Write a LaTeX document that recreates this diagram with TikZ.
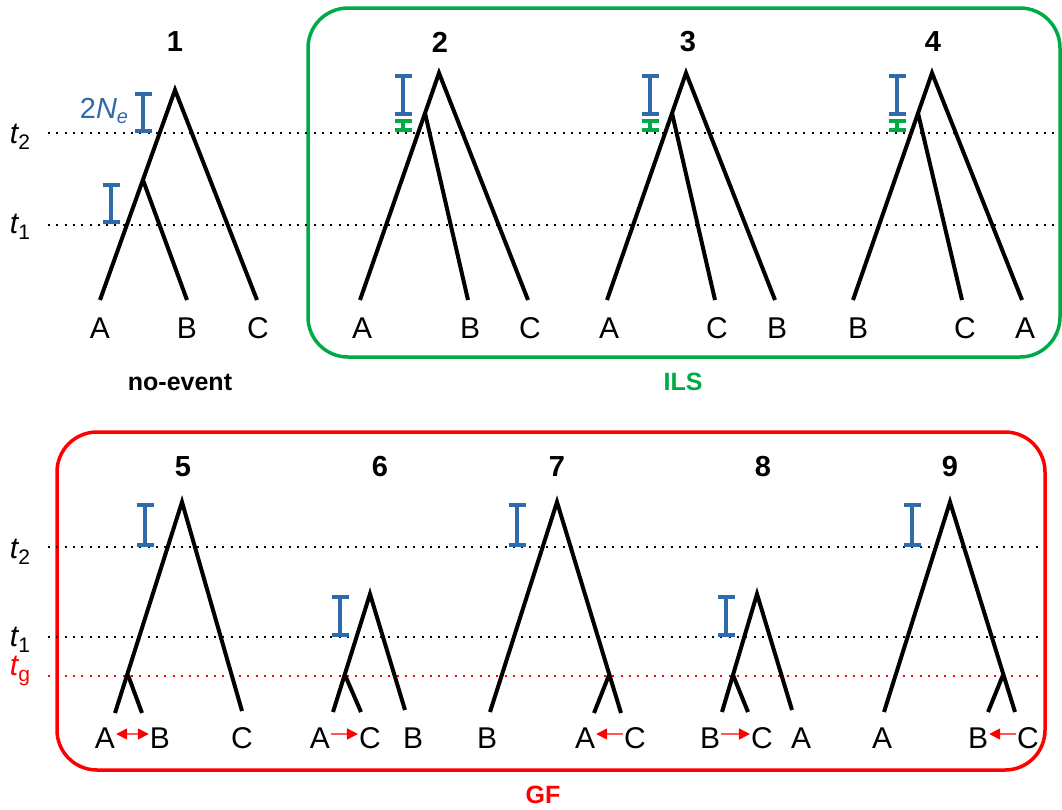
\documentclass[tikz,border=0pt]{standalone}
\usepackage{fontspec}
\setmainfont{Liberation Sans}
\usetikzlibrary{arrows.meta}
\definecolor{ilsgreen}{RGB}{0,170,70}
\definecolor{barblue}{RGB}{47,106,170}
\definecolor{gfred}{RGB}{255,0,0}
\newcommand{\tlab}[1]{{\fontsize{30}{32}\selectfont\itshape t}\raisebox{-6pt}{\fontsize{21}{21}\selectfont #1}}
\begin{document}
\begin{tikzpicture}[x=1pt,y=-1pt,
  branch/.style={line width=4pt, line join=miter},
  leaflab/.style={font=\fontsize{30}{32}\selectfont, inner sep=1pt},
  numlab/.style={font=\bfseries\fontsize{29}{32}\selectfont, inner sep=1pt},
  grouplab/.style={font=\bfseries\fontsize{25}{28}\selectfont, inner sep=1pt},
  timeline/.style={line width=2pt, dash pattern=on 2pt off 6.3pt},
  errbar/.style={line width=4pt, {Bar[width=17pt]}-{Bar[width=17pt]}},
  gfarrow/.style={line width=1.5pt, draw=gfred!65, -{Triangle[length=11pt,width=11pt,color=gfred]}},
  gfdarrow/.style={line width=1.5pt, draw=gfred!65, {Triangle[length=11pt,width=11pt,color=gfred]}-{Triangle[length=11pt,width=11pt,color=gfred]}},
  groupbox/.style={line width=3.5pt, rounded corners=40pt}
]
\useasboundingbox (0,0) rectangle (1062,809);

% ---------- boxes ----------
\draw[groupbox, draw=ilsgreen] (308,8) rectangle (1060,357);
\draw[groupbox, draw=gfred] (57,432) rectangle (1045,770);

% ---------- time lines (top) ----------
\node[inner sep=0pt] (tt2) at (20,137) {\tlab{2}};
\node[inner sep=0pt] (tt1) at (20,227) {\tlab{1}};
\coordinate (tt2s) at (48,133); \coordinate (tt2e) at (1058,133);
\coordinate (tt1s) at (48,225); \coordinate (tt1e) at (1058,225);
\draw[timeline] (tt2s) -- (tt2e);
\draw[timeline] (tt1s) -- (tt1e);

% ---------- time lines (bottom) ----------
\node[inner sep=0pt] (bt2) at (20,552) {\tlab{2}};
\node[inner sep=0pt] (bt1) at (20,640) {\tlab{1}};
\node[inner sep=0pt, text=gfred] (btg) at (20,671) {\tlab{g}};
\coordinate (bt2s) at (48,547); \coordinate (bt2e) at (1043,547);
\coordinate (bt1s) at (48,637); \coordinate (bt1e) at (1043,637);
\coordinate (btgs) at (48,676); \coordinate (btge) at (1043,676);
\draw[timeline] (bt2s) -- (bt2e);
\draw[timeline] (bt1s) -- (bt1e);
\draw[timeline, draw=gfred] (btgs) -- (btge);

% ---------- tree 1 ----------
\node[numlab] (n1) at (175,42) {1};
\coordinate (r1) at (175,90); \coordinate (i1) at (143,180);
\coordinate (a1) at (100,300); \coordinate (b1) at (187,300); \coordinate (c1) at (257,300);
\draw[branch] (a1) -- (r1) -- (c1);
\draw[branch] (i1) -- (b1);
\node[leaflab] (la1) at (100,328) {A};
\node[leaflab] (lb1) at (187,328) {B};
\node[leaflab] (lc1) at (258,328) {C};
\coordinate (e1t) at (143,92); \coordinate (e1b) at (143,133);
\draw[errbar, draw=barblue] (e1t) -- (e1b);
\coordinate (e1bt) at (111,183); \coordinate (e1bb) at (111,224);
\draw[errbar, draw=barblue] (e1bt) -- (e1bb);
\node[text=barblue, inner sep=0pt] (ne) at (104,111)
  {\fontsize{29}{30}\selectfont 2\textit{N}\raisebox{-5pt}{\fontsize{20}{20}\selectfont\textit{e}}};
\node[grouplab] (noev) at (180,382) {no-event};

% ---------- tree 2 ----------
\node[numlab] (n2) at (440,42) {2};
\coordinate (r2) at (439,73); \coordinate (i2) at (425,113);
\coordinate (a2) at (360,300); \coordinate (b2) at (468,300); \coordinate (c2) at (528,300);
\draw[branch] (a2) -- (r2) -- (c2);
\draw[branch] (i2) -- (b2);
\node[leaflab] (la2) at (362,328) {A};
\node[leaflab] (lb2) at (470,328) {B};
\node[leaflab] (lc2) at (530,328) {C};
\coordinate (e2t) at (403,74); \coordinate (e2m) at (403,116);
\coordinate (e2g) at (403,119); \coordinate (e2b) at (403,132);
\draw[errbar, draw=barblue] (e2t) -- (e2m);
\draw[errbar, draw=ilsgreen] (e2g) -- (e2b);

% ---------- tree 3 ----------
\node[numlab] (n3) at (688,42) {3};
\coordinate (r3) at (686,73); \coordinate (i3) at (672,113);
\coordinate (a3) at (607,300); \coordinate (c3) at (715,300); \coordinate (b3) at (775,300);
\draw[branch] (a3) -- (r3) -- (b3);
\draw[branch] (i3) -- (c3);
\node[leaflab] (la3) at (609,328) {A};
\node[leaflab] (lc3) at (717,328) {C};
\node[leaflab] (lb3) at (777,328) {B};
\coordinate (e3t) at (650,74); \coordinate (e3m) at (650,116);
\coordinate (e3g) at (650,119); \coordinate (e3b) at (650,132);
\draw[errbar, draw=barblue] (e3t) -- (e3m);
\draw[errbar, draw=ilsgreen] (e3g) -- (e3b);

% ---------- tree 4 ----------
\node[numlab] (n4) at (933,42) {4};
\coordinate (r4) at (932,73); \coordinate (i4) at (918,113);
\coordinate (b4) at (853,300); \coordinate (c4) at (962,300); \coordinate (a4) at (1022,300);
\draw[branch] (b4) -- (r4) -- (a4);
\draw[branch] (i4) -- (c4);
\node[leaflab] (lb4) at (858,328) {B};
\node[leaflab] (lc4) at (965,328) {C};
\node[leaflab] (la4) at (1025,328) {A};
\coordinate (e4t) at (897,74); \coordinate (e4m) at (897,116);
\coordinate (e4g) at (897,119); \coordinate (e4b) at (897,132);
\draw[errbar, draw=barblue] (e4t) -- (e4m);
\draw[errbar, draw=ilsgreen] (e4g) -- (e4b);

\node[grouplab, text=ilsgreen] (ils) at (683,382) {ILS};

% ---------- tree 5 ----------
\node[numlab] (n5) at (183,467) {5};
\coordinate (r5) at (182,502); \coordinate (i5) at (128,675);
\coordinate (a5) at (115,713); \coordinate (b5) at (142,713); \coordinate (c5) at (242,711);
\draw[branch] (a5) -- (r5) -- (c5);
\draw[branch] (i5) -- (b5);
\node[leaflab] (la5) at (105,738) {A};
\node[leaflab] (lb5) at (160,738) {B};
\node[leaflab] (lc5) at (242,738) {C};
\draw[gfdarrow] ([yshift=4pt]la5.east) -- ([yshift=4pt]lb5.west);
\coordinate (e5t) at (145,503); \coordinate (e5b) at (145,547);
\draw[errbar, draw=barblue] (e5t) -- (e5b);

% ---------- tree 6 ----------
\node[numlab] (n6) at (380,467) {6};
\coordinate (r6) at (370,594); \coordinate (i6) at (345,675);
\coordinate (a6) at (333,712); \coordinate (c6) at (361,712); \coordinate (b6) at (405,710);
\draw[branch] (a6) -- (r6) -- (b6);
\draw[branch] (i6) -- (c6);
\node[leaflab] (la6) at (320,738) {A};
\node[leaflab] (lc6) at (370,738) {C};
\node[leaflab] (lb6) at (413,738) {B};
\draw[gfarrow] ([yshift=4pt]la6.east) -- ([yshift=4pt]lc6.west);
\coordinate (e6t) at (340,595); \coordinate (e6b) at (340,637);
\draw[errbar, draw=barblue] (e6t) -- (e6b);

% ---------- tree 7 ----------
\node[numlab] (n7) at (557,467) {7};
\coordinate (r7) at (557,502); \coordinate (i7) at (609,675);
\coordinate (b7) at (490,712); \coordinate (a7) at (594,713); \coordinate (c7) at (621,713);
\draw[branch] (b7) -- (r7) -- (c7);
\draw[branch] (i7) -- (a7);
\node[leaflab] (lb7) at (487,738) {B};
\node[leaflab] (la7) at (585,738) {A};
\node[leaflab] (lc7) at (635,738) {C};
\draw[gfarrow] ([yshift=4pt]lc7.west) -- ([yshift=4pt]la7.east);
\coordinate (e7t) at (517,503); \coordinate (e7b) at (517,547);
\draw[errbar, draw=barblue] (e7t) -- (e7b);

% ---------- tree 8 ----------
\node[numlab] (n8) at (763,467) {8};
\coordinate (r8) at (757,594); \coordinate (i8) at (733,675);
\coordinate (b8) at (722,712); \coordinate (c8) at (748,712); \coordinate (a8) at (792,710);
\draw[branch] (b8) -- (r8) -- (a8);
\draw[branch] (i8) -- (c8);
\node[leaflab] (lb8) at (710,738) {B};
\node[leaflab] (lc8) at (762,738) {C};
\node[leaflab] (la8) at (801,738) {A};
\draw[gfarrow] ([yshift=4pt]lb8.east) -- ([yshift=4pt]lc8.west);
\coordinate (e8t) at (726,595); \coordinate (e8b) at (726,637);
\draw[errbar, draw=barblue] (e8t) -- (e8b);

% ---------- tree 9 ----------
\node[numlab] (n9) at (950,467) {9};
\coordinate (r9) at (950,502); \coordinate (i9) at (1003,675);
\coordinate (a9) at (884,712); \coordinate (b9) at (988,712); \coordinate (c9) at (1015,712);
\draw[branch] (a9) -- (r9) -- (c9);
\draw[branch] (i9) -- (b9);
\node[leaflab] (la9) at (882,738) {A};
\node[leaflab] (lb9) at (978,738) {B};
\node[leaflab] (lc9) at (1028,738) {C};
\draw[gfarrow] ([yshift=4pt]lc9.west) -- ([yshift=4pt]lb9.east);
\coordinate (e9t) at (912,503); \coordinate (e9b) at (912,547);
\draw[errbar, draw=barblue] (e9t) -- (e9b);

\node[grouplab, text=gfred] (gf) at (543,795) {GF};
\end{tikzpicture}
\end{document}
